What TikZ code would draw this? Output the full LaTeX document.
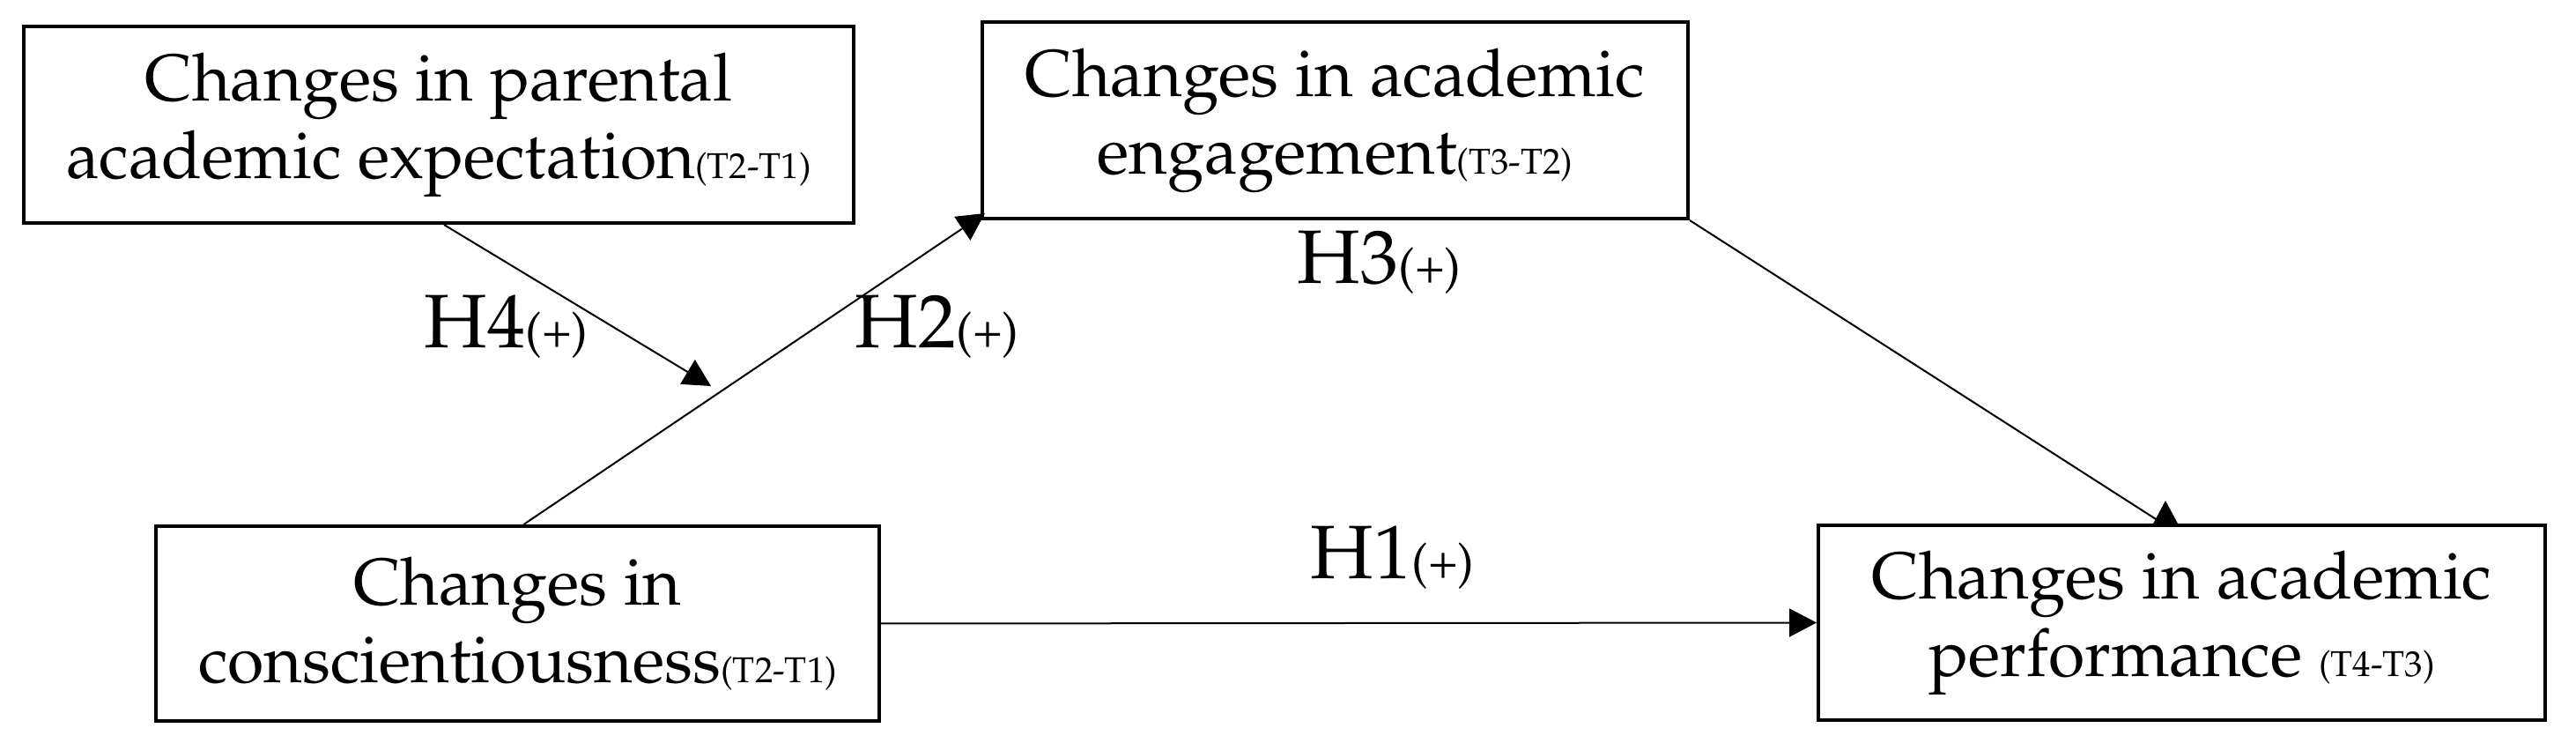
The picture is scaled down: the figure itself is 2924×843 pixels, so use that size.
\documentclass[tikz,border=0pt]{standalone}
\usepackage[T1]{fontenc}
\renewcommand{\rmdefault}{ppl}
\usetikzlibrary{arrows.meta,calc}
\tikzset{
  varbox/.style={draw, line width=1pt, rectangle, inner sep=0pt, align=center,
    font=\fontsize{18.8}{22}\selectfont},
  conn/.style={line width=0.5pt, -{Triangle[length=7.75pt,width=8pt]}},
  plainconn/.style={line width=0.5pt},
  hlabel/.style={anchor=base west, inner sep=0pt, font=\fontsize{21.5}{24}\selectfont}
}
\newcommand{\tsub}[1]{{\fontsize{10.2}{12}\selectfont #1}}
\newcommand{\hsign}[1]{{\fontsize{14}{16}\selectfont #1}}
\begin{document}
\begin{tikzpicture}[x=0.25pt,y=-0.25pt]
\useasboundingbox (0,0) rectangle (2924,843);
\node[varbox, minimum width=942*0.25pt, minimum height=223*0.25pt] (A) at (498,141.5)
  {Changes in parental\\academic expectation\tsub{(T2-T1)}};
\node[varbox, minimum width=801*0.25pt, minimum height=223*0.25pt] (B) at (1515.5,136.5)
  {Changes in academic\\engagement\tsub{(T3-T2)}};
\node[varbox, minimum width=821*0.25pt, minimum height=221*0.25pt] (C) at (587.5,707.5)
  {Changes in\\conscientiousness\tsub{(T2-T1)}};
\node[varbox, minimum width=825*0.25pt, minimum height=221*0.25pt] (D) at (2476.5,706.5)
  {Changes in academic\\performance \tsub{(T4-T3)}};

\coordinate (h4tip) at (807,438);
\coordinate (h3end) at (2458,596);

\draw[conn] (C.east) -- (D.west);
\draw[conn] ($(C.north)+(7,0)$) -- ($(B.south west)+(5,-8)$);
\draw[conn] ($(A.south)+(6,0)$) -- (h4tip);
\draw[plainconn] (B.south east) -- (h3end);
\fill (h3end) ++(-15,0) -- ++(15,-28) -- ++(15,28) -- cycle;

\node[hlabel] (L4) at (481,395) {H4\hsign{(+)}};
\node[hlabel] (L2) at (970,395) {H2\hsign{(+)}};
\node[hlabel] (L3) at (1472,322) {H3\hsign{(+)}};
\node[hlabel] (L1) at (1487,657) {H1\hsign{(+)}};
\end{tikzpicture}
\end{document}
